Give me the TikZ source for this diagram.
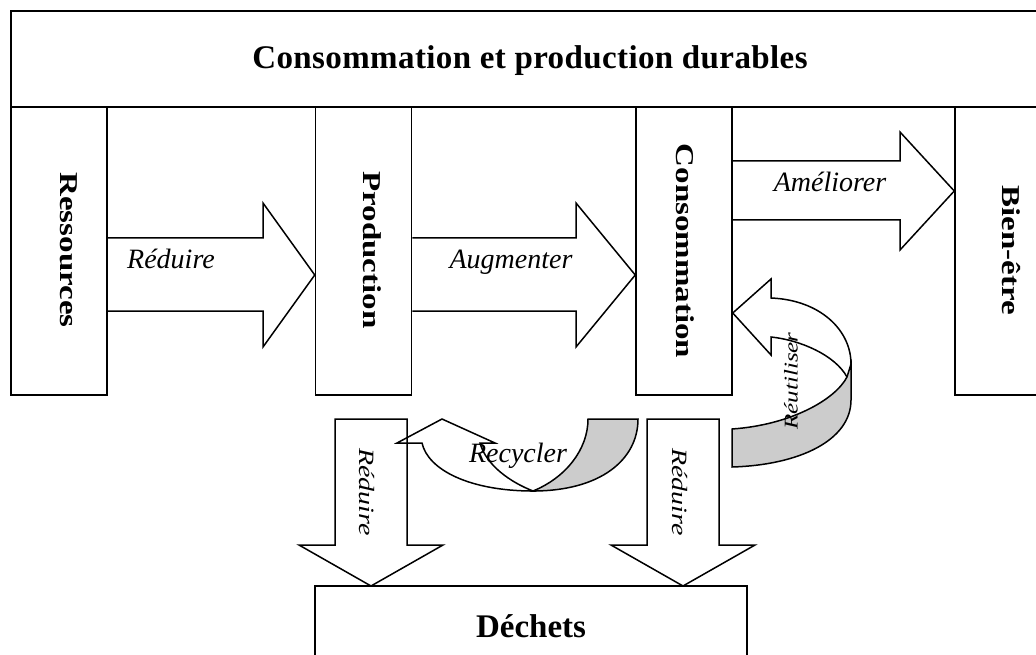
\documentclass[tikz,border=0pt]{standalone}
\usepackage{fontspec}
\setmainfont{Liberation Serif}
\begin{document}
\begin{tikzpicture}[x=1pt,y=-1pt,
  box/.style={draw,line width=1.5pt,inner sep=0pt},
  arrowline/.style={draw,line width=1.5pt,line join=miter},
  greyband/.style={draw,line width=1.5pt,fill=black!20},
  boldlbl/.style={font=\fontsize{33}{38}\selectfont\bfseries,inner sep=0pt},
  vlbl/.style={boldlbl,rotate=-90},
  itl/.style={font=\fontsize{28}{32}\selectfont\itshape,inner sep=0pt},
]
\useasboundingbox (0,0) rectangle (1036,655);
\clip (0,0) rectangle (1036,655);

% boxes
\node[box,minimum width=1030pt,minimum height=96pt] (top) at (526,59) {};
\node[box,minimum width=96pt,minimum height=288pt] (res) at (59,251) {};
\node[box,minimum width=96pt,minimum height=288pt] (prod) at (363.5,251) {};
\node[box,minimum width=96pt,minimum height=288pt] (cons) at (684,251) {};
\node[box,minimum width=90pt,minimum height=288pt] (bien) at (1000,251) {};
\node[box,minimum width=432pt,minimum height=80pt] (dech) at (531,626) {};

% straight block arrows
\draw[arrowline] (res.east |- 0,238) -- (263,238) -- (263,203) -- (prod.west |- 0,275)
  -- (263,347) -- (263,311) -- (res.east |- 0,311);
\draw[arrowline] (prod.east |- 0,238) -- (576,238) -- (576,203) -- (cons.west |- 0,275)
  -- (576,347) -- (576,311) -- (prod.east |- 0,311);
\draw[arrowline] (cons.east |- 0,161) -- (900,161) -- (900,132) -- (bien.west |- 0,191)
  -- (900,250) -- (900,220) -- (cons.east |- 0,220);
\draw[arrowline] (335,419) -- (407,419) -- (407,545) -- (443,545) -- (371,586)
  -- (299,545) -- (335,545) -- cycle;
\draw[arrowline] (647,419) -- (719,419) -- (719,545) -- (755,545) -- (683,586)
  -- (611,545) -- (647,545) -- cycle;

% Recycler curved arrow
\draw[greyband] (588,419) -- (638,419) .. controls (638,460) and (600,491) .. (533,491)
  .. controls (565,478) and (588,450) .. (588,419) -- cycle;
\draw[arrowline] (480,443) -- (495,443) -- (442,419) -- (397,443) -- (422,443)
  .. controls (428,470) and (470,491) .. (533,491)
  .. controls (510,482) and (486,465) .. (480,443) -- cycle;

% Reutiliser curved arrow
\draw[greyband] (847,377) -- (851,364) -- (851,400) .. controls (851,440) and (800,465) .. (732,467)
  -- (732,429) .. controls (790,425) and (835,400) .. (847,377) -- cycle;
\draw[arrowline] (847,377) .. controls (835,355) and (800,340) .. (771,337) -- (771,355)
  -- (cons.east |- 0,313) -- (771,279) -- (771,298)
  .. controls (820,300) and (851,330) .. (851,364);

% labels
\node[boldlbl,anchor=base] (ttl) at (530,69) {\addfontfeature{LetterSpace=1.2}Consommation et production durables};
\node[vlbl] (tres) at (69,250) {\scalebox{1}[0.78]{Ressources}};
\node[vlbl] (tprod) at (372,250) {\scalebox{1}[0.78]{Production}};
\node[vlbl] (tcons) at (685,251) {\scalebox{1}[0.78]{Consommation}};
\node[vlbl] (tbien) at (1011,250) {\scalebox{1}[0.78]{Bien-être}};
\node[boldlbl,anchor=base] (tdech) at (531,637) {Déchets};

\node[itl,anchor=base] (l1) at (171,269) {Réduire};
\node[itl,anchor=base] (l2) at (511,268) {Augmenter};
\node[itl,anchor=base] (l3) at (830,192) {Améliorer};
\node[itl,anchor=base] (l4) at (518,462) {Recycler};
\node[itl,rotate=-90] (l5) at (367,492) {\scalebox{1}[0.78]{Réduire}};
\node[itl,rotate=-90] (l6) at (680,492) {\scalebox{1}[0.78]{Réduire}};
\node[itl,rotate=90,font=\fontsize{25}{30}\selectfont\itshape] (l7) at (791,381) {\scalebox{1}[0.78]{Réutiliser}};
\end{tikzpicture}
\end{document}
